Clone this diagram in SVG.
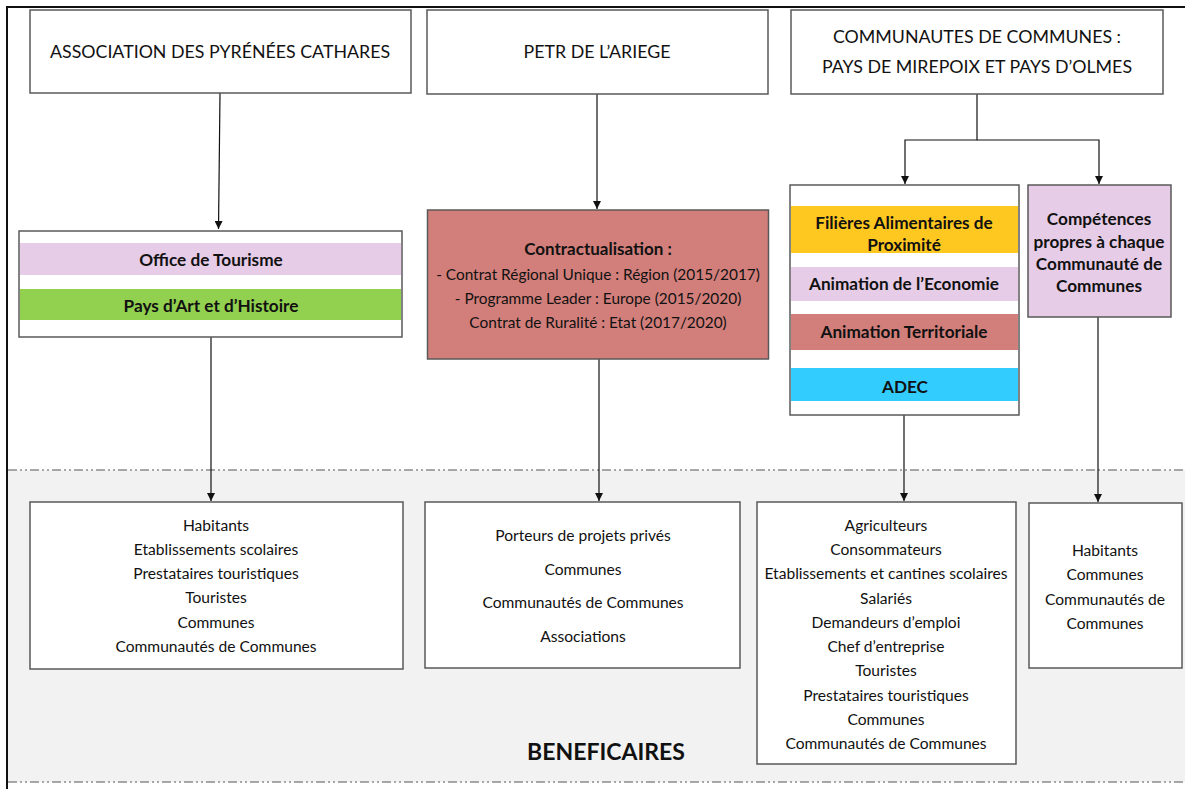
<svg xmlns="http://www.w3.org/2000/svg" width="1185" height="789" viewBox="0 0 1185 789">
<style>
  text { font-family: Lato, "Liberation Sans", Arial, sans-serif; fill: #111; text-anchor: middle; }
  .hd { font-size: 17.8px; }
  .tx { font-size: 15.6px; }
  .bd { font-size: 17.2px; font-weight: bold; }
  .ct { font-size: 15.4px; }
  .box { fill: #ffffff; stroke: #595959; stroke-width: 1.5; }
  .conn { fill: none; stroke: #111; stroke-width: 1.2; }
  .dd { stroke: #8c8c8c; stroke-width: 1.3; stroke-dasharray: 9 3 2 3 2 3; }
</style>
<defs>
  <marker id="ah" markerUnits="userSpaceOnUse" markerWidth="9" markerHeight="8" refX="8" refY="4" orient="auto">
    <path d="M0,0 L8,4 L0,8 z" fill="#111"/>
  </marker>
</defs>
<rect x="0" y="0" width="1185" height="789" fill="#ffffff"/>
<g id="frame">
  <rect x="8" y="470" width="1177" height="312" fill="#f2f2f2"/>
  <line x1="8" y1="470" x2="1185" y2="470" class="dd"/>
  <line x1="8" y1="782" x2="1185" y2="782" class="dd"/>
  <line x1="7" y1="7" x2="1185" y2="7" stroke="#111" stroke-width="2"/>
  <line x1="7" y1="6" x2="7" y2="789" stroke="#111" stroke-width="2"/>
</g>
<g id="connectors">
  <path class="conn" d="M220,93 L218.5,229" marker-end="url(#ah)"/>
  <path class="conn" d="M597,94 L597,209" marker-end="url(#ah)"/>
  <path class="conn" d="M977,94 L977,140 L905,140 L905,184" marker-end="url(#ah)"/>
  <path class="conn" d="M977,140 L1099,140 L1099,184" marker-end="url(#ah)"/>
  <path class="conn" d="M211,337 L211,501" marker-end="url(#ah)"/>
  <path class="conn" d="M599,359 L599,501" marker-end="url(#ah)"/>
  <path class="conn" d="M904,415 L904,501" marker-end="url(#ah)"/>
  <path class="conn" d="M1098,317 L1098,502" marker-end="url(#ah)"/>
</g>
<g id="assoc">
  <rect class="box" x="30" y="10" width="381" height="83"/>
  <text class="hd" x="220" y="58">ASSOCIATION DES PYRÉNÉES CATHARES</text>
</g>
<g id="petr">
  <rect class="box" x="427" y="10" width="341" height="84"/>
  <text class="hd" x="597" y="58">PETR DE L’ARIEGE</text>
</g>
<g id="cc">
  <rect class="box" x="791" y="10" width="372" height="84"/>
  <text class="hd" x="977" y="43">COMMUNAUTES DE COMMUNES :</text>
  <text class="hd" x="977" y="73">PAYS DE MIREPOIX ET PAYS D’OLMES</text>
</g>
<g id="tourisme">
  <rect class="box" x="19" y="231" width="383" height="106"/>
  <rect x="20" y="243" width="381" height="32" fill="#e6cce6"/>
  <rect x="20" y="289" width="381" height="31" fill="#92d050"/>
  <text class="bd" x="211" y="266">Office de Tourisme</text>
  <text class="bd" x="211" y="311.5">Pays d’Art et d’Histoire</text>
</g>
<g id="contract">
  <rect x="427.5" y="210" width="341" height="149" fill="#d27f7b" stroke="#595959" stroke-width="1.5"/>
  <text x="598" y="255" font-size="17" font-weight="bold">Contractualisation :</text>
  <text class="ct" x="598" y="280">- Contrat Régional Unique : Région (2015/2017)</text>
  <text class="ct" x="598" y="304">- Programme Leader : Europe (2015/2020)</text>
  <text class="ct" x="598" y="328">Contrat de Ruralité : Etat (2017/2020)</text>
</g>
<g id="actions">
  <rect class="box" x="790" y="185" width="229" height="230"/>
  <rect x="791" y="206" width="227" height="47" fill="#ffc820"/>
  <rect x="791" y="267" width="227" height="34" fill="#e6cce6"/>
  <rect x="791" y="314" width="227" height="36" fill="#d27f7b"/>
  <rect x="791" y="368" width="227" height="33" fill="#33ccff"/>
  <text class="bd" x="904" y="229">Filières Alimentaires de</text>
  <text class="bd" x="904" y="250.5">Proximité</text>
  <text class="bd" x="904" y="289.5">Animation de l’Economie</text>
  <text class="bd" x="904" y="337.5">Animation Territoriale</text>
  <text class="bd" x="905" y="392.5">ADEC</text>
</g>
<g id="competences">
  <rect x="1028" y="185" width="143" height="132" fill="#e6cce6" stroke="#595959" stroke-width="1.5"/>
  <text class="bd" x="1099" y="225">Compétences</text>
  <text class="bd" x="1099" y="247.5">propres à chaque</text>
  <text class="bd" x="1099" y="270">Communauté de</text>
  <text class="bd" x="1099" y="292">Communes</text>
</g>
<g id="benef1">
  <rect class="box" x="30" y="502" width="373" height="167"/>
  <text class="tx" x="216" y="530.5">Habitants</text>
  <text class="tx" x="216" y="555">Etablissements scolaires</text>
  <text class="tx" x="216" y="579">Prestataires touristiques</text>
  <text class="tx" x="216" y="603">Touristes</text>
  <text class="tx" x="216" y="628">Communes</text>
  <text class="tx" x="216" y="652">Communautés de Communes</text>
</g>
<g id="benef2">
  <rect class="box" x="425" y="502" width="315" height="166"/>
  <text class="tx" x="583" y="541">Porteurs de projets privés</text>
  <text class="tx" x="583" y="574.5">Communes</text>
  <text class="tx" x="583" y="608">Communautés de Communes</text>
  <text class="tx" x="583" y="641.5">Associations</text>
</g>
<g id="benef3">
  <rect class="box" x="757" y="502" width="259" height="262"/>
  <text class="tx" x="886" y="530.5">Agriculteurs</text>
  <text class="tx" x="886" y="555">Consommateurs</text>
  <text class="tx" x="886" y="579">Etablissements et cantines scolaires</text>
  <text class="tx" x="886" y="603.5">Salariés</text>
  <text class="tx" x="886" y="627.5">Demandeurs d’emploi</text>
  <text class="tx" x="886" y="652">Chef d’entreprise</text>
  <text class="tx" x="886" y="676">Touristes</text>
  <text class="tx" x="886" y="700.5">Prestataires touristiques</text>
  <text class="tx" x="886" y="724.5">Communes</text>
  <text class="tx" x="886" y="749">Communautés de Communes</text>
</g>
<g id="benef4">
  <rect class="box" x="1029" y="503" width="153" height="165"/>
  <text class="tx" x="1105" y="556">Habitants</text>
  <text class="tx" x="1105" y="580">Communes</text>
  <text class="tx" x="1105" y="604.5">Communautés de</text>
  <text class="tx" x="1105" y="628.5">Communes</text>
</g>
<g id="label">
  <text x="606" y="759.5" font-size="23" font-weight="bold">BENEFICAIRES</text>
</g>
</svg>
